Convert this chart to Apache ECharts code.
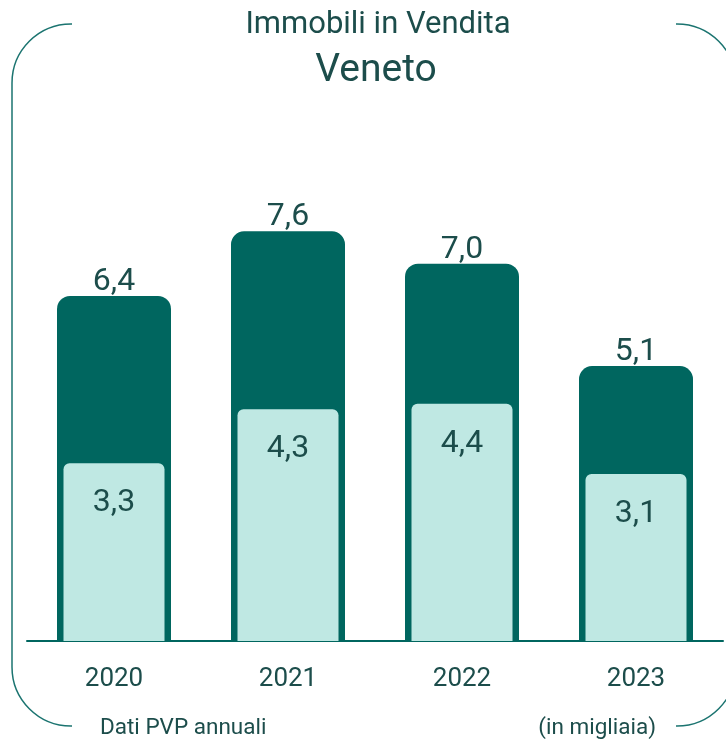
<!DOCTYPE html>
<html><head><meta charset="utf-8">
<script src="https://cdn.jsdelivr.net/npm/echarts@6/dist/echarts.min.js"></script>
<style>html,body{margin:0;padding:0;background:#fff}#c{width:726px;height:741px}</style>
</head><body><div id="c"></div>
<script>
const categories = ['2020', '2021', '2022', '2023'];
const totalValues = [6.4, 7.6, 7.0, 5.1];
const innerValues = [3.3, 4.3, 4.4, 3.1];
const titleText = 'Immobili in Vendita';
const subtitleText = 'Veneto';
const footLeft = 'Dati PVP annuali';
const footRight = '(in migliaia)';

const dark = '#00665f';
const light = '#bfe8e3';
const textCol = '#1c4d4b';
const font = 'Roboto';
const fmt = p => p.value.toFixed(1).replace('.', ',');

const chart = echarts.init(document.getElementById('c'));
chart.setOption({
  animation: false,
  grid: { left: 27, right: 3, top: 102, bottom: 100, containLabel: false },
  xAxis: [
    { type: 'category', data: categories,
      axisLine: { lineStyle: { color: dark, width: 2 } }, axisTick: { show: false },
      axisLabel: { color: textCol, fontSize: 26, fontFamily: font, margin: 25 } },
    { type: 'category', data: categories, show: false }
  ],
  yAxis: { type: 'value', min: 0, max: 10, show: false, splitLine: { show: false } },
  series: [
    { type: 'bar', xAxisIndex: 0, data: totalValues, barWidth: 114, z: 2,
      itemStyle: { color: dark, borderRadius: [13, 13, 0, 0] },
      label: { show: true, position: 'top', distance: -2, formatter: fmt,
        color: textCol, fontSize: 32, fontFamily: font } },
    { type: 'bar', xAxisIndex: 1, data: innerValues, barWidth: 101, z: 3,
      itemStyle: { color: light, borderRadius: [6, 6, 0, 0] },
      label: { show: true, position: 'insideTop', distance: 24, formatter: fmt,
        color: textCol, fontSize: 32, fontFamily: font } }
  ],
  graphic: [
    { type: 'rect', z: 1, shape: { x: 12, y: 24, width: 724, height: 702, r: 59 },
      style: { fill: 'none', stroke: '#1b7470', lineWidth: 1.5 } },
    { type: 'rect', z: 2, shape: { x: 72, y: 18, width: 604, height: 12 }, style: { fill: '#fff' } },
    { type: 'rect', z: 2, shape: { x: 72, y: 720, width: 604, height: 12 }, style: { fill: '#fff' } },
    { type: 'text', z: 5, x: 378, y: 25, style: { text: titleText, fill: textCol, font: '31px Roboto', align: 'center', verticalAlign: 'middle' } },
    { type: 'text', z: 5, x: 376, y: 71, style: { text: subtitleText, fill: textCol, font: '39px Roboto', align: 'center', verticalAlign: 'middle' } },
    { type: 'text', z: 5, x: 100, y: 728, style: { text: footLeft, fill: textCol, font: '22.5px Roboto', align: 'left', verticalAlign: 'middle' } },
    { type: 'text', z: 5, x: 656, y: 728, style: { text: footRight, fill: textCol, font: '22.5px Roboto', align: 'right', verticalAlign: 'middle' } }
  ]
});
</script></body></html>
